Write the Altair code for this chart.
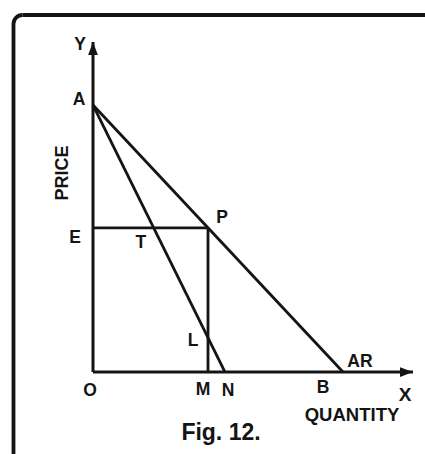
import altair as alt
import pandas as pd

# Demand (AR) and marginal revenue (MR) under monopoly, in price/quantity units
price_intercept_A = 10.0      # OA: price where AR and MR start
ar_quantity_B = 10.0          # OB: AR meets the quantity axis
mr_quantity_N = 5.28          # ON: MR meets the quantity axis
output_M = 4.6                # OM: equilibrium output
price_E = 5.4
point_T = (2.43, 5.4)         # EP crosses MR
point_L = (4.6, 1.29)         # MP crosses MR
x_axis_end = 12.8
y_axis_end = 12.36

W, H = 425, 454
xs = alt.Scale(domain=[-3.72, 13.28], nice=False, zero=False)
ys = alt.Scale(domain=[-3.071, 13.933], nice=False, zero=False)


def X(f):
    return alt.X(f, type="quantitative", scale=xs, axis=None)


def Y(f):
    return alt.Y(f, type="quantitative", scale=ys, axis=None)


INK = "#141414"

axes_df = pd.DataFrame({
    "x": [0.0, 0.0], "y": [0.0, 0.0],
    "x2": [0.0, x_axis_end], "y2": [y_axis_end, 0.0],
})
curves_df = pd.DataFrame({
    "x": [0.0, 0.0, 0.0, output_M],
    "y": [price_intercept_A, price_intercept_A, price_E, price_E],
    "x2": [ar_quantity_B, mr_quantity_N, output_M, output_M],
    "y2": [0.0, 0.0, price_E, 0.0],
})

axes = alt.Chart(axes_df).mark_rule(color=INK, strokeWidth=3).encode(
    x=X("x"), y=Y("y"), x2="x2", y2="y2")
curves = alt.Chart(curves_df).mark_rule(color=INK, strokeWidth=2.8).encode(
    x=X("x"), y=Y("y"), x2="x2", y2="y2")

up_arrow = alt.Chart(pd.DataFrame({"x": [0.0], "y": [y_axis_end]})).mark_point(
    shape="M0,0L0.75,2L-0.75,2Z", size=169, filled=True, color=INK, opacity=1
).encode(x=X("x"), y=Y("y"))
right_arrow = alt.Chart(pd.DataFrame({"x": [x_axis_end], "y": [0.0]})).mark_point(
    shape="M0,0L-2,-0.75L-2,0.75Z", size=169, filled=True, color=INK, opacity=1
).encode(x=X("x"), y=Y("y"))


def label(text, x, y, dx, dy, size=17.5, angle=0):
    return alt.Chart(pd.DataFrame({"x": [x], "y": [y], "t": [text]})).mark_text(
        font="Liberation Sans", fontWeight="bold", fontSize=size, color=INK,
        align="center", baseline="alphabetic", dx=dx, dy=dy, angle=angle
    ).encode(x=X("x"), y=Y("y"), text="t:N")


labels = [
    label("Y", 0, y_axis_end, -13, 8),
    label("A", 0, price_intercept_A, -14, 0),
    label("E", 0, price_E, -18, 15),
    label("T", point_T[0], point_T[1], -13, 20),
    label("P", output_M, price_E, 14, -5),
    label("L", point_L[0], point_L[1], -15, 8),
    label("O", 0, 0, -3, 24),
    label("M", output_M, 0, -5, 23),
    label("N", mr_quantity_N, 0, 3, 24),
    label("B", ar_quantity_B, 0, -20, 21),
    label("AR", ar_quantity_B, 0, 17, -5),
    label("X", x_axis_end, 0, -8, 29, size=19),
    label("QUANTITY", x_axis_end, 0, -61, 49, size=18.5),
    label("PRICE", 0, price_intercept_A, -68, -25, size=18, angle=270),
    label("Fig. 12.", 0, 0, 128, 68, size=23),
]

# Frame: top and left edges running off the page, joined by a rounded corner
one = pd.DataFrame({"k": [0]})
frame_top = alt.Chart(one).mark_rule(color=INK, strokeWidth=3.8).encode(
    x=alt.value(22.5), x2=alt.value(440), y=alt.value(15))
frame_left = alt.Chart(one).mark_rule(color=INK, strokeWidth=3.8).encode(
    x=alt.value(13.5), y=alt.value(24), y2=alt.value(470))
frame_corner = alt.Chart(one).mark_arc(
    color=INK, radius=10.9, radius2=7.1, theta=4.712, theta2=6.2832
).encode(x=alt.value(22.5), y=alt.value(24))

chart = alt.layer(frame_top, frame_left, frame_corner, axes, curves,
                  up_arrow, right_arrow, *labels).properties(
    width=W, height=H, padding=0, autosize=alt.AutoSizeParams(type="none"),
    background="white",
).configure_view(stroke=None)

chart.save("out.html", embed_options={"renderer": "svg", "actions": False})
